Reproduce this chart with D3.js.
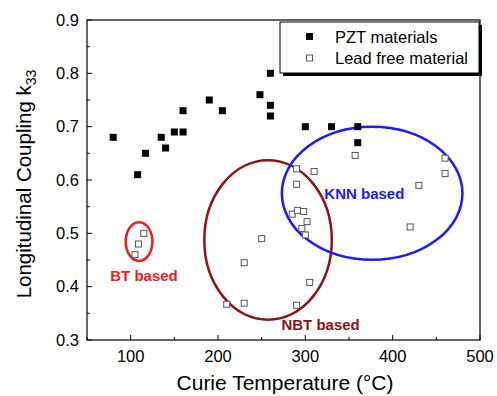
<!DOCTYPE html>
<html>
<head>
<meta charset="utf-8">
<script src="https://cdn.jsdelivr.net/npm/d3@7"></script>
<style>
  body { margin: 0; background: #fff; }
  text { font-family: "Liberation Sans", Arial, Helvetica, sans-serif; }
</style>
</head>
<body>
<div class="chart"></div>
<script>
var svgWidth = 497;
var svgHeight = 396;

var margin = { top: 20, right: 17, bottom: 56, left: 87 };
var chartWidth = svgWidth - margin.left - margin.right;
var chartHeight = svgHeight - margin.top - margin.bottom;

// PZT materials (filled squares)
var pztCurie = [80, 108, 117, 135, 140, 150, 160, 160, 190, 205, 248, 260, 260, 260, 300, 330, 360, 360];
var pztK33 = [0.68, 0.61, 0.65, 0.68, 0.66, 0.69, 0.69, 0.73, 0.75, 0.73, 0.76, 0.80, 0.74, 0.72, 0.70, 0.70, 0.70, 0.67];

// Lead free materials (open squares)
var leadFreeCurie = [115, 109, 105, 250, 230, 210, 230, 290, 305, 290, 310, 290, 285, 291, 298, 302, 296, 300, 430, 460, 420, 357, 460];
var leadFreeK33 = [0.50, 0.48, 0.46, 0.49, 0.445, 0.367, 0.369, 0.365, 0.408, 0.592, 0.616, 0.621, 0.536, 0.543, 0.541, 0.522, 0.509, 0.497, 0.59, 0.612, 0.512, 0.646, 0.641];

// grouping ellipses: centre and radii in data units
var groupNames = ["BT based", "NBT based", "KNN based"];
var groupCx = [109.6, 257.3, 376.5];
var groupCy = [0.4845, 0.4875, 0.575];
var groupRx = [15.3, 73, 103.4];
var groupRy = [0.0364, 0.1495, 0.1247];
var groupLabelX = [115.3, 317.5, 367.6];
var groupLabelY = [0.42, 0.328, 0.575];
var groupColors = ["#f41a1a", "#8c1414", "#1a1aff"];

var xTicks = [100, 200, 300, 400, 500];
var yTicks = [0.3, 0.4, 0.5, 0.6, 0.7, 0.8, 0.9];

var svg = d3.select(".chart")
  .append("svg")
  .attr("width", svgWidth)
  .attr("height", svgHeight)
  .append("g")
  .attr("transform", "translate(" + margin.left + "," + margin.top + ")");

var xScale = d3.scaleLinear().domain([50, 500]).range([0, chartWidth]);
var yScale = d3.scaleLinear().domain([0.3, 0.9]).range([chartHeight, 0]);

// frame
svg.append("rect")
  .attr("width", chartWidth)
  .attr("height", chartHeight)
  .attr("fill", "none")
  .attr("stroke", "#000")
  .attr("stroke-width", 1.2);

// minor ticks (inward)
var xMinor = d3.range(50, 501, 50);
svg.selectAll(".xminor").data(xMinor).enter().append("line")
  .attr("x1", d => xScale(d)).attr("x2", d => xScale(d))
  .attr("y1", chartHeight).attr("y2", d => chartHeight - (d % 100 === 0 ? 5 : 3))
  .attr("stroke", "#000").attr("stroke-width", 1);
var yMinor = d3.range(0.3, 0.901, 0.05);
svg.selectAll(".yminor").data(yMinor).enter().append("line")
  .attr("x1", 0).attr("x2", (d, i) => i % 2 === 0 ? 5 : 3)
  .attr("y1", d => yScale(d)).attr("y2", d => yScale(d))
  .attr("stroke", "#000").attr("stroke-width", 1);

// tick labels
svg.selectAll(".xlabel").data(xTicks).enter().append("text")
  .attr("x", d => xScale(d))
  .attr("y", chartHeight + 22)
  .attr("text-anchor", "middle")
  .attr("font-size", 16.5)
  .text(d => d);
svg.selectAll(".ylabel").data(yTicks).enter().append("text")
  .attr("x", -8)
  .attr("y", d => yScale(d))
  .attr("dy", "0.35em")
  .attr("text-anchor", "end")
  .attr("font-size", 16.5)
  .text(d => d3.format(".1f")(d));

// axis titles
svg.append("text")
  .attr("x", 285 - margin.left)
  .attr("y", chartHeight + 50)
  .attr("text-anchor", "middle")
  .attr("font-size", 21)
  .text("Curie Temperature (°C)");

var yTitle = svg.append("text")
  .attr("transform", "translate(" + (31 - margin.left) + "," + (184 - margin.top) + ") rotate(-90)")
  .attr("text-anchor", "middle")
  .attr("font-size", 20.5);
yTitle.append("tspan").text("Longitudinal Coupling k");
yTitle.append("tspan").attr("font-size", 14).attr("dy", 5).text("33");

// ellipses
svg.selectAll(".group").data(groupNames).enter().append("ellipse")
  .attr("cx", (d, i) => xScale(groupCx[i]))
  .attr("cy", (d, i) => yScale(groupCy[i]))
  .attr("rx", (d, i) => xScale(50 + groupRx[i]) - xScale(50))
  .attr("ry", (d, i) => yScale(0.3) - yScale(0.3 + groupRy[i]))
  .attr("fill", "none")
  .attr("stroke", (d, i) => groupColors[i])
  .attr("stroke-width", 2.5);

svg.selectAll(".glabel").data(groupNames).enter().append("text")
  .attr("x", (d, i) => xScale(groupLabelX[i]))
  .attr("y", (d, i) => yScale(groupLabelY[i]))
  .attr("dy", "0.35em")
  .attr("text-anchor", "middle")
  .attr("font-size", 15)
  .attr("font-weight", "bold")
  .attr("fill", (d, i) => groupColors[i])
  .text(d => d);

// points
svg.selectAll(".pzt").data(pztCurie).enter().append("rect")
  .attr("x", (d, i) => xScale(d) - 3.5)
  .attr("y", (d, i) => yScale(pztK33[i]) - 3.5)
  .attr("width", 7).attr("height", 7)
  .attr("fill", "#000");

svg.selectAll(".lf").data(leadFreeCurie).enter().append("rect")
  .attr("x", (d, i) => xScale(d) - 3)
  .attr("y", (d, i) => yScale(leadFreeK33[i]) - 3)
  .attr("width", 6).attr("height", 6)
  .attr("fill", "#fff")
  .attr("stroke", "#555")
  .attr("stroke-width", 1);

// legend
var legend = svg.append("g").attr("transform", "translate(" + (280 - margin.left) + "," + (22 - margin.top) + ")");
legend.append("rect")
  .attr("x", 3).attr("y", 3)
  .attr("width", 199).attr("height", 51)
  .attr("fill", "#000");
legend.append("rect")
  .attr("width", 199).attr("height", 51)
  .attr("fill", "#fff")
  .attr("stroke", "#000")
  .attr("stroke-width", 1);
legend.append("rect").attr("x", 26).attr("y", 11).attr("width", 7).attr("height", 7).attr("fill", "#000");
legend.append("rect").attr("x", 26.5).attr("y", 33).attr("width", 6).attr("height", 6)
  .attr("fill", "#fff").attr("stroke", "#555");
legend.append("text").attr("x", 55).attr("y", 15).attr("dy", "0.35em").attr("font-size", 16.5).text("PZT materials");
legend.append("text").attr("x", 55).attr("y", 36).attr("dy", "0.35em").attr("font-size", 16.5).text("Lead free material");
</script>
</body>
</html>
